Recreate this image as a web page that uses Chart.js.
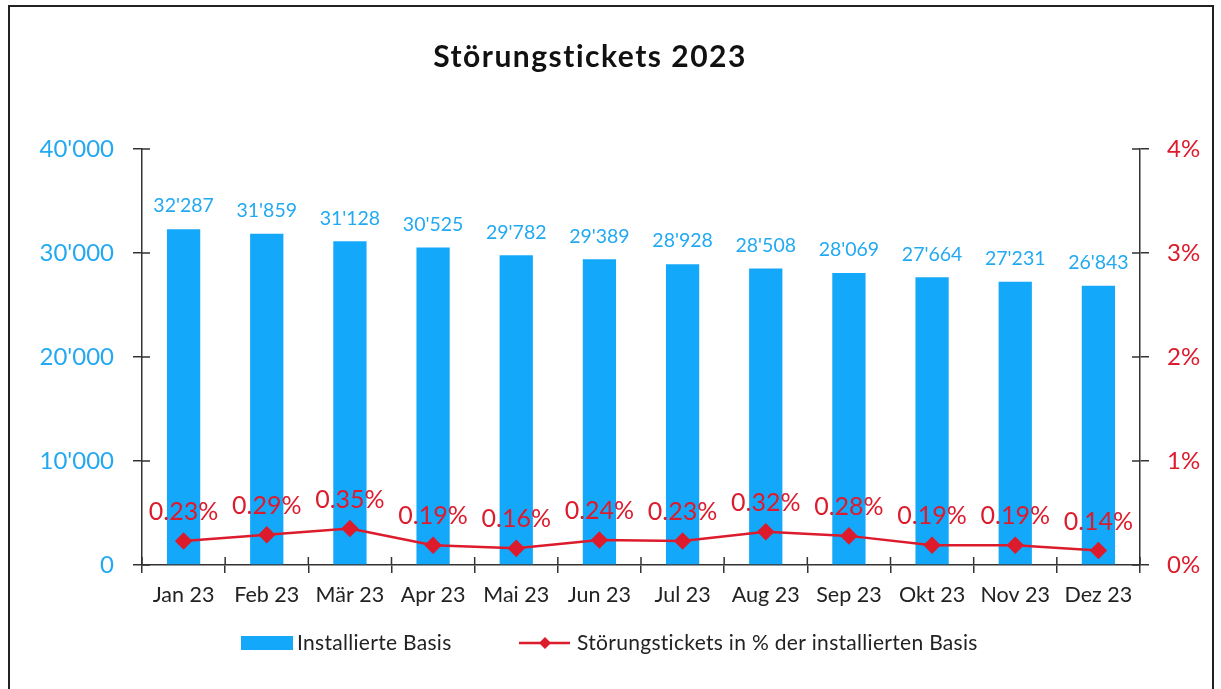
<!DOCTYPE html>
<html>
<head>
<meta charset="utf-8">
<script src="https://cdn.jsdelivr.net/npm/chart.js@4"></script>
<style>
  html, body { margin: 0; padding: 0; background: #fff; }
  #wrap { position: relative; width: 1221px; height: 689px; overflow: hidden; }
  #frame { position: absolute; left: 8px; top: 5px; width: 1206px; height: 720px; border: 2px solid #222; box-sizing: border-box; }
  canvas { position: absolute; left: 0; top: 0; }
</style>
</head>
<body>
<div id="wrap">
  <div id="frame"></div>
  <canvas id="chart" width="1221" height="689"></canvas>
</div>
<script>
const months = ['Jan 23', 'Feb 23', 'Mär 23', 'Apr 23', 'Mai 23', 'Jun 23', 'Jul 23', 'Aug 23', 'Sep 23', 'Okt 23', 'Nov 23', 'Dez 23'];
const installedBase = [32287, 31859, 31128, 30525, 29782, 29389, 28928, 28508, 28069, 27664, 27231, 26843];
const ticketPct = [0.23, 0.29, 0.35, 0.19, 0.16, 0.24, 0.23, 0.32, 0.28, 0.19, 0.19, 0.14];
const leftTicks = [0, 10000, 20000, 30000, 40000];
const rightTicks = [0, 1, 2, 3, 4];

const FONT = 'Lato, "Open Sans", sans-serif';
const BLUE = '#14a8fa';
const BLUE_TXT = '#22a9f2';
const RED = '#dc1b2c';
const AXIS = '#333';

const fmt = v => String(v).replace(/\B(?=(\d{3})+(?!\d))/g, "'");

// value labels, inner half of the crossing ticks, title and legend
const extras = {
    id: 'extras',
    afterDatasetsDraw(chart) {
        const c = chart.ctx;
        c.save();
        c.textAlign = 'center';
        c.textBaseline = 'middle';
        c.font = '19.5px ' + FONT;
        c.fillStyle = BLUE_TXT;
        chart.getDatasetMeta(1).data.forEach((bar, i) => {
            c.fillText(fmt(installedBase[i]), bar.x, bar.y - 23);
        });
        c.font = '25px ' + FONT;
        c.fillStyle = RED;
        chart.getDatasetMeta(0).data.forEach((pt, i) => {
            c.fillText(ticketPct[i].toFixed(2) + '%', pt.x, pt.y - 29);
        });
        c.restore();
    },
    afterDraw(chart) {
        const c = chart.ctx;
        const a = chart.chartArea;
        const y = chart.scales.y, y1 = chart.scales.y1, x = chart.scales.x;
        c.save();
        c.strokeStyle = AXIS;
        c.lineWidth = 1.5;
        c.beginPath();
        leftTicks.forEach(v => {
            const p = y.getPixelForValue(v);
            c.moveTo(a.left, p); c.lineTo(a.left + 8, p);
        });
        rightTicks.forEach(v => {
            const p = y1.getPixelForValue(v);
            c.moveTo(a.right - 8, p); c.lineTo(a.right, p);
        });
        const n = months.length;
        for (let i = 0; i <= n; i++) {
            const p = x.left + i * x.width / n;
            c.moveTo(p, a.bottom); c.lineTo(p, a.bottom - 8);
        }
        c.stroke();

        // title
        c.fillStyle = '#111';
        c.font = 'bold 30px ' + FONT;
        c.letterSpacing = '1.5px';
        c.textAlign = 'center';
        c.textBaseline = 'middle';
        c.fillText('Störungstickets 2023', 590, 57);
        c.letterSpacing = '0px';

        // legend
        const ly = 643;
        c.fillStyle = BLUE;
        c.fillRect(241, ly - 7, 52, 14);
        c.strokeStyle = RED;
        c.lineWidth = 2.5;
        c.beginPath();
        c.moveTo(519, ly); c.lineTo(570, ly);
        c.stroke();
        c.fillStyle = RED;
        c.beginPath();
        c.moveTo(545 - 6, ly); c.lineTo(545, ly - 6); c.lineTo(545 + 6, ly); c.lineTo(545, ly + 6);
        c.closePath();
        c.fill();
        c.fillStyle = '#222';
        c.font = '21px ' + FONT;
        c.letterSpacing = '0.3px';
        c.textAlign = 'left';
        c.fillText('Installierte Basis', 297, ly);
        c.fillText('Störungstickets in % der installierten Basis', 577, ly);
        c.restore();
    }
};

new Chart(document.getElementById('chart'), {
    data: {
        labels: months,
        datasets: [{
            type: 'line',
            label: 'Störungstickets in % der installierten Basis',
            data: ticketPct,
            yAxisID: 'y1',
            borderColor: RED,
            backgroundColor: RED,
            borderWidth: 2.5,
            pointStyle: 'rectRot',
            pointRadius: 7,
            pointHoverRadius: 7,
            tension: 0,
            order: 1
        }, {
            type: 'bar',
            label: 'Installierte Basis',
            data: installedBase,
            yAxisID: 'y',
            backgroundColor: BLUE,
            categoryPercentage: 0.4,
            barPercentage: 1,
            order: 2
        }]
    },
    options: {
        responsive: false,
        animation: false,
        layout: { padding: { top: 149, left: 0, right: 0, bottom: 0 } },
        plugins: {
            legend: { display: false },
            title: { display: false },
            tooltip: { enabled: false }
        },
        scales: {
            x: {
                grid: { display: true, drawOnChartArea: false, offset: true, tickLength: 8, color: AXIS, lineWidth: 1.5 },
                border: { color: AXIS, width: 1.5 },
                ticks: { color: '#222', font: { family: FONT, size: 21.5 }, padding: 9, maxRotation: 0 },
                afterFit(s) { s.height = 124; }
            },
            y: {
                position: 'left',
                min: 0, max: 40000,
                afterBuildTicks(s) { s.ticks = leftTicks.map(v => ({ value: v })); },
                ticks: { color: BLUE_TXT, font: { family: FONT, size: 24 }, padding: 19, callback: v => fmt(v) },
                grid: { drawOnChartArea: false, tickLength: 9, color: AXIS, lineWidth: 1.5 },
                border: { color: AXIS, width: 1.5 },
                afterFit(s) { s.width = 142; }
            },
            y1: {
                position: 'right',
                min: 0, max: 4,
                afterBuildTicks(s) { s.ticks = rightTicks.map(v => ({ value: v })); },
                ticks: { color: RED, font: { family: FONT, size: 24 }, padding: 18, callback: v => v + '%' },
                grid: { drawOnChartArea: false, tickLength: 9, color: AXIS, lineWidth: 1.5 },
                border: { color: AXIS, width: 1.5 },
                afterFit(s) { s.width = 81; }
            }
        }
    },
    plugins: [extras]
});
</script>
</body>
</html>
